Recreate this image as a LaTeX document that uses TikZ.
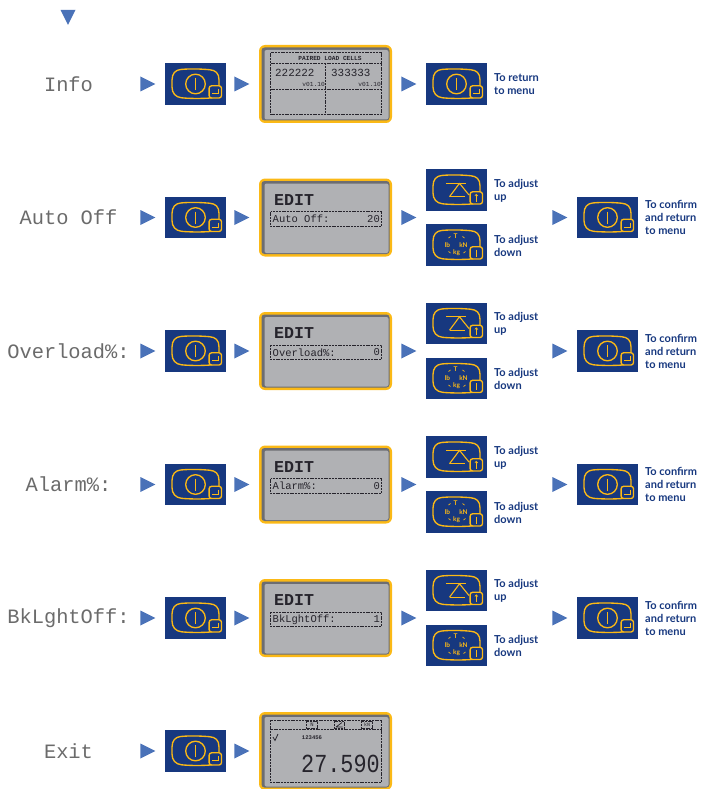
\documentclass[tikz,border=0pt]{standalone}
\usepackage{fontspec}
\usepackage{xcolor}
\setmainfont{Lato}
\setmonofont{Liberation Mono}
\usetikzlibrary{positioning,shapes.geometric}

\definecolor{keyblue}{HTML}{17387F}
\definecolor{keygold}{HTML}{FBB916}
\definecolor{flowblue}{HTML}{4A72B8}
\definecolor{lcdlight}{HTML}{B0B1B4}
\definecolor{lcddark}{HTML}{6C6D72}
\definecolor{lcdink}{HTML}{26242C}

\tikzset{
  flowtri/.style={isosceles triangle,isosceles triangle apex angle=53,fill=flowblue,inner sep=0pt,minimum size=15pt},
  menulabel/.style={font=\ttfamily\fontsize{20.4}{22}\selectfont,text=black!58,inner sep=0pt},
  hint/.style={font=\bfseries\fontsize{11}{13}\selectfont,text=keyblue,align=left,anchor=west,inner sep=0pt},
  keyline/.style={draw=keygold,line width=1.35pt,line join=round},
  lcdline/.style={draw=lcdink,line width=0.6pt,dash pattern=on 2pt off 0.8pt},
  lcdtext/.style={text=lcdink,inner sep=0pt,font=\ttfamily\fontsize{10.5}{12}\selectfont},
  % parts of a key
  keybody/.pic={
    \fill[keyblue] (-30.5,-20.7) rectangle (30.5,20.7);
    \draw[keyline] (-15,-14.5) .. controls (-5,-15.5) and (6,-15) .. (14,-14.3) .. controls (20,-13.8) and (23.5,-11) .. (23.5,-4)
      -- (23.5,4) .. controls (23.5,11) and (20,14) .. (12,14.2) .. controls (4,14.6) and (-6,14.6) .. (-14,13.8)
      .. controls (-20,13.2) and (-23.5,9) .. (-23.5,3) -- (-23.5,-4) .. controls (-23.5,-10.5) and (-20,-14) .. (-15,-14.5) -- cycle;
    \draw[keyline,fill=keyblue,rounded corners=2.5pt] (13.6,1.8) rectangle (26,14);
  },
  powerkey/.pic={
    \pic {keybody};
    \draw[keyline] (0,0) circle[radius=9.8];
    \draw[keyline] (0,-6) -- (0,6);
    \draw[keygold,line width=1pt] (23,5) -- (23,9.5) -- (16.5,9.5);
  },
  upkey/.pic={
    \pic {keybody};
    \draw[keyline,line width=1.1pt] (-10.5,-6.7) -- (9,-6.7);
    \draw[keyline,line width=1.1pt] (-7,6.7) -- (3,-6.7) -- (12.5,5);
    \draw[keyline,line width=1.1pt] (-7,6.7) -- (8,6.7);
    \draw[keygold,line width=1pt] (19.8,11.5) -- (19.8,4.5);
    \draw[keygold,line width=0.7pt] (18.3,6) -- (19.8,4.3) -- (21.3,6);
  },
  unitkey/.pic={
    \pic {keybody};
    \node[text=keygold,inner sep=0pt,font=\bfseries\fontsize{6.5}{6}\selectfont] (-t) at (-1,-9) {T};
    \node[text=keygold,inner sep=0pt,font=\bfseries\fontsize{6.5}{6}\selectfont] (-lb) at (-9,0) {lb};
    \node[text=keygold,inner sep=0pt,font=\bfseries\fontsize{6.5}{6}\selectfont] (-kn) at (7,0) {kN};
    \node[text=keygold,inner sep=0pt,font=\bfseries\fontsize{6.5}{6}\selectfont] (-kg) at (0,7.5) {kg};
    \foreach \ax/\ay/\bx/\by in {-8/-7/-6/-8.5,6/-8.5/8/-7,-8/6.5/-6/8,7/8/9/6.5}
      \draw[keygold,line width=0.7pt] (\ax,\ay) -- (\bx,\by);
    \draw[keygold,line width=1.1pt] (19.8,4.5) -- (19.8,11.5);
  },
  lcdscreen/.pic={
    \fill[keygold,rounded corners=6pt] (-66.5,-39) rectangle (66.5,39);
    \fill[lcddark,rounded corners=3pt] (-64,-36.5) rectangle (64,36.5);
    \fill[lcdlight,rounded corners=2pt] (-61,-34) rectangle (63,35.5);
  },
}

\begin{document}
\begin{tikzpicture}[x=1pt,y=-1pt]
  \useasboundingbox (0,0) rectangle (704,789);

  \node[flowtri,shape border rotate=-90] (start) at (68,14.5) {};

  % every row begins the same way
  \foreach \n/\y/\lbl in {info/84/Info,auto/217.5/Auto Off,over/351/Overload\%:,alarm/484.5/Alarm\%:,back/618/BkLghtOff:,exit/751/Exit} {
    \node[menulabel] (lbl\n) at (68.5,\y) {\lbl};
    \node[flowtri] (tria\n) at (145,\y) {};
    \pic (key\n) at (195.5,\y) {powerkey};
    \node[flowtri] (trib\n) at (239,\y) {};
    \pic (scr\n) at (325.5,\y) {lcdscreen};
  }

  % rows with an edit screen
  \foreach \n/\y/\scr/\val in {auto/217.5/Auto Off:/20,over/351/Overload\%:/0,alarm/484.5/Alarm\%:/0,back/618/BkLghtOff:/1} {
    \node[lcdtext,font=\ttfamily\bfseries\fontsize{16.6}{18}\selectfont,anchor=west] (edit\n) at (274,\y-17.5) {EDIT};
    \draw[lcdline] (270.5,\y-6) rectangle (381.5,\y+8.5);
    \node[lcdtext,anchor=west] (name\n) at (272.5,\y+1.5) {\scr};
    \node[lcdtext,anchor=east] (val\n) at (380,\y+1.5) {\val};
    \node[flowtri] (tric\n) at (406,\y) {};
    \pic (up\n) at (456.5,\y-27.5) {upkey};
    \node[hint] (uptxt\n) at (494,\y-27) {To adjust\\up};
    \pic (down\n) at (456.5,\y+27.5) {unitkey};
    \node[hint] (downtxt\n) at (494,\y+28) {To adjust\\down};
    \node[flowtri] (trid\n) at (557,\y) {};
    \pic (ok\n) at (607.5,\y) {powerkey};
    \node[hint] (oktxt\n) at (645,\y) {To confirm\\and return\\to menu};
  }

  % info row
  \node[flowtri] (tricinfo) at (406,84) {};
  \pic (backkey) at (456.5,84) {powerkey};
  \node[hint] (backtxt) at (494,84) {To return\\to menu};
  \draw[lcdline] (270.5,52.7) rectangle (381.5,114.3);
  \draw[lcdline] (270.5,63.3) -- (381.5,63.3);
  \draw[lcdline] (270.5,89.3) -- (381.5,89.3);
  \draw[lcdline] (325.7,63.3) -- (325.7,114.3);
  \node[lcdtext,font=\ttfamily\bfseries\fontsize{6.2}{7}\selectfont] (cells) at (330,58.3) {PAIRED LOAD CELLS};
  \node[lcdtext,font=\ttfamily\fontsize{10.9}{12}\selectfont,anchor=west] (cella) at (275,73) {222222};
  \node[lcdtext,font=\ttfamily\fontsize{10.9}{12}\selectfont,anchor=west] (cellb) at (331,73) {333333};
  \node[lcdtext,font=\ttfamily\fontsize{6.2}{7}\selectfont,anchor=east] (vera) at (325,84) {v01.10};
  \node[lcdtext,font=\ttfamily\fontsize{6.2}{7}\selectfont,anchor=east] (verb) at (381,84) {v01.10};

  % exit row
  \draw[lcdline] (270.7,720) rectangle (381.7,782.3);
  \draw[lcdline] (270.7,729) -- (381.7,729);
  \draw[lcdline] (306.7,721) rectangle (317.3,728.3);
  \draw[lcdline] (334,721) rectangle (344.3,728.3);
  \draw[lcdline] (361.7,721) rectangle (372.3,728.3);
  \node[lcdtext,font=\ttfamily\fontsize{5.5}{6}\selectfont] (taba) at (312,724.7) {N};
  \draw[lcdink,line width=0.7pt] (336,727) -- (342,722.5) (336,727) -- (342.5,727);
  \node[lcdtext,font=\ttfamily\fontsize{5}{6}\selectfont] (tabc) at (367,724.7) {kN};
  \draw[lcdink,line width=0.8pt] (273,737) -- (275,740.5) -- (278,734);
  \node[lcdtext,font=\ttfamily\bfseries\fontsize{5.6}{6}\selectfont] (serial) at (312,737.7) {123456};
  \node[lcdtext,font=\ttfamily\fontsize{26}{28}\selectfont,anchor=east] (reading) at (380,763.7) {\scalebox{.84}[1]{27.590}};
\end{tikzpicture}
\end{document}
